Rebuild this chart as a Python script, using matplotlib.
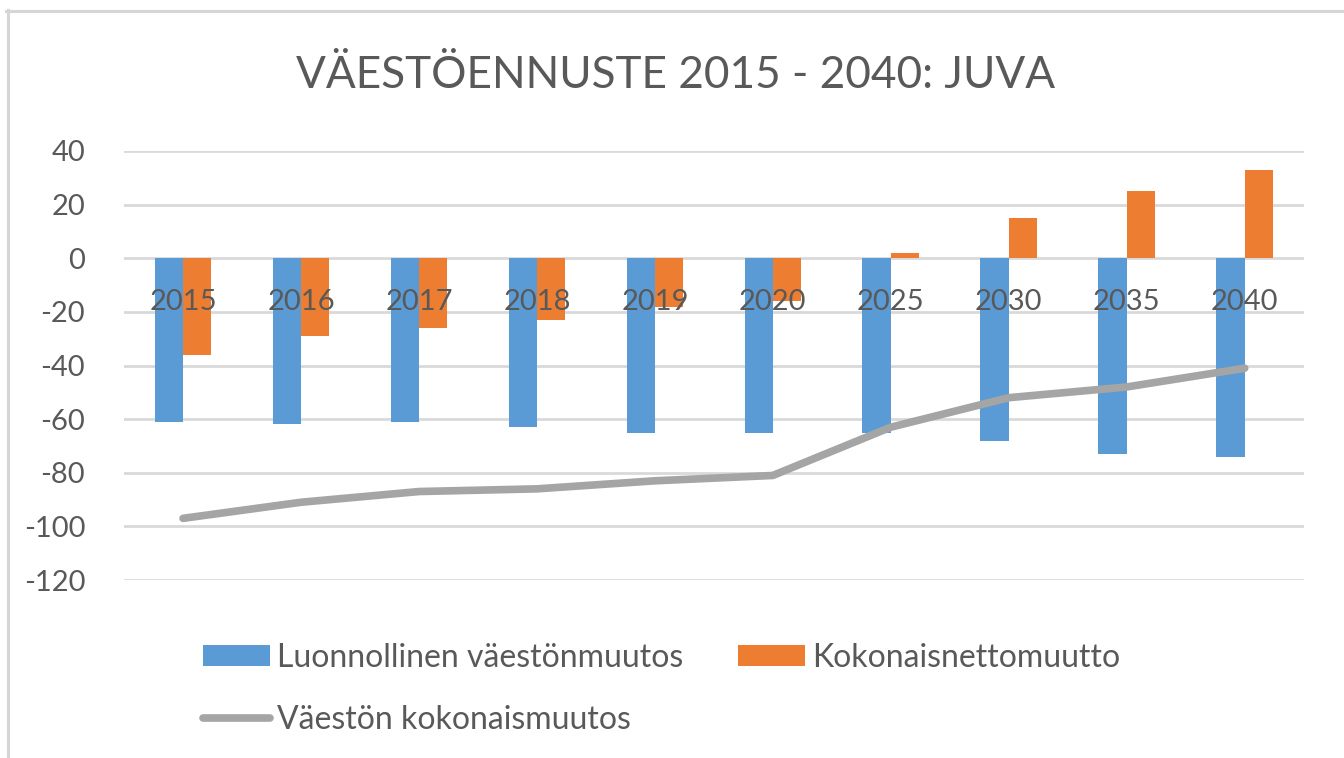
import numpy as np
import matplotlib.pyplot as plt
from matplotlib.lines import Line2D

plt.rcParams['font.family'] = ['Lato', 'DejaVu Sans']
plt.rcParams['axes.unicode_minus'] = False

# data
years = ['2015', '2016', '2017', '2018', '2019', '2020', '2025', '2030', '2035', '2040']
luonnollinen = [-61, -62, -61, -63, -65, -65, -65, -68, -73, -74]
nettomuutto = [-36, -29, -26, -23, -18, -16, 2, 15, 25, 33]
kokonaismuutos = [-97, -91, -87, -86, -83, -81, -63, -52, -48, -41]
y_ticks = [-120, -100, -80, -60, -40, -20, 0, 20, 40]

blue = '#5B9BD5'
orange = '#ED7D31'
gray = '#A5A5A5'
txt = '#595959'
grid = '#D9D9D9'

W, H = 1344, 758
fig = plt.figure(figsize=(W / 100, H / 100), dpi=100)
ax = fig.add_axes([0.0923, 0.2348, 0.8777, 0.566])

x = np.arange(len(years))
w = 0.24
b1 = ax.bar(x - w / 2, luonnollinen, w, color=blue, zorder=1, label='Luonnollinen väestönmuutos')
b2 = ax.bar(x + w / 2, nettomuutto, w, color=orange, zorder=1, label='Kokonaisnettomuutto')
l1, = ax.plot(x, kokonaismuutos, color=gray, lw=5.5, solid_capstyle='round',
              solid_joinstyle='round', zorder=3, label='Väestön kokonaismuutos')

ax.set_xlim(-0.5, len(years) - 0.5)
ax.set_ylim(y_ticks[0], y_ticks[-1])
ax.set_yticks(y_ticks)
ax.set_xticks(x)
ax.set_xticklabels(years)
ax.grid(axis='y', color=grid, lw=2)
ax.yaxis.set_zorder(0.5)
ax.xaxis.set_zorder(5)
for s in ax.spines.values():
    s.set_visible(False)
ax.spines['bottom'].set_position(('data', 0))
ax.tick_params(axis='both', length=0, labelsize=21, labelcolor=txt)
ax.tick_params(axis='x', pad=22)
ax.tick_params(axis='y', pad=28)

fig.text(0.503, 0.9, 'VÄESTÖENNUSTE 2015 - 2040: JUVA', ha='center', va='center',
         fontsize=31.8, color=txt)

leg = fig.legend([b1, l1, b2], [b1.get_label(), l1.get_label(), b2.get_label()],
                 loc='upper left', bbox_to_anchor=(203 / W, 1 - 643 / H), ncol=2,
                 frameon=False, borderpad=0, borderaxespad=0,
                 fontsize=23, labelcolor=txt, handlelength=2.1, handleheight=0.62,
                 handletextpad=0.22, columnspacing=1.7, labelspacing=1.0)

# chart border (top and left edges only)
fig.add_artist(Line2D([6 / W, 1], [1 - 10.5 / H] * 2, transform=fig.transFigure,
                      color='#D6D6D6', lw=2.2))
fig.add_artist(Line2D([7.5 / W] * 2, [0, 1 - 10 / H], transform=fig.transFigure,
                      color='#D6D6D6', lw=2.2))

fig.savefig('out.png', dpi=100)
